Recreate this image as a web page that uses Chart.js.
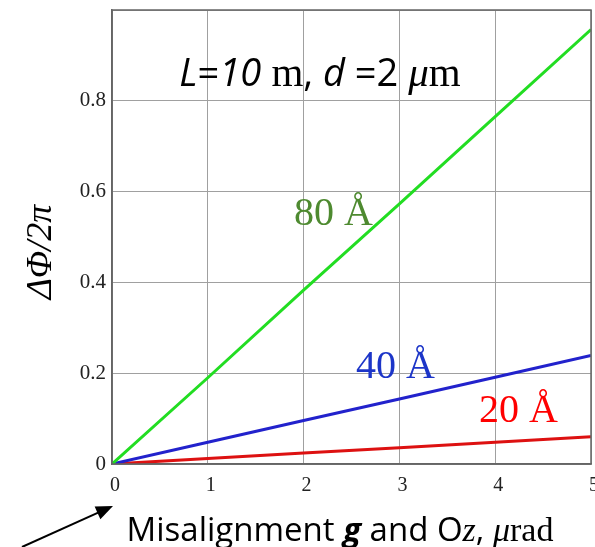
<!DOCTYPE html>
<html>
<head>
<meta charset="utf-8">
<script src="https://cdn.jsdelivr.net/npm/chart.js@4"></script>
<style>
  html, body { margin: 0; padding: 0; background: #fff; }
  #wrap { width: 595px; height: 547px; }
</style>
</head>
<body>
<div id="wrap"><canvas id="grafico" width="595" height="547"></canvas></div>
<script>
// Datos
const desalineacion = [0, 1, 2, 3, 4, 5];          // eje x, µrad
const fase80 = [0, 0.19, 0.383, 0.573, 0.765, 0.957];
const fase40 = [0, 0.048, 0.096, 0.143, 0.191, 0.239];
const fase20 = [0, 0.012, 0.024, 0.036, 0.048, 0.06];
const yTicks = [0, 0.2, 0.4, 0.6, 0.8];
const etiquetas = ['80 Å', '40 Å', '20 Å'];

const serif = '"Liberation Serif", "DejaVu Serif", serif';
const sans = '"Open Sans", "Liberation Sans", sans-serif';

function puntos(ys) {
  return desalineacion.map((x, i) => ({ x, y: ys[i] }));
}

// Dibuja un texto compuesto por varios trozos con distintas fuentes
function textoMixto(ctx, partes, x, y, align) {
  let total = 0;
  partes.forEach(p => { ctx.font = p.font; total += ctx.measureText(p.t).width; });
  let cx = align === 'center' ? x - total / 2 : x;
  partes.forEach(p => {
    ctx.font = p.font;
    ctx.fillStyle = p.color || '#000';
    ctx.fillText(p.t, cx, y);
    cx += ctx.measureText(p.t).width;
  });
}

const textosPlugin = {
  id: 'textos',
  afterDraw(chart) {
    const ctx = chart.ctx;
    const xs = chart.scales.x, ys = chart.scales.y;
    ctx.save();
    ctx.textBaseline = 'alphabetic';
    ctx.textAlign = 'left';

    // encabezado
    textoMixto(ctx, [
      { t: 'L', font: 'italic 38px ' + sans },
      { t: '=', font: '38px ' + sans },
      { t: '10', font: 'italic 38px ' + sans },
      { t: ' m', font: '41px ' + serif },
      { t: ', ', font: '38px ' + sans },
      { t: 'd', font: 'italic 38px ' + sans },
      { t: ' =2 ', font: '38px ' + sans },
      { t: 'μ', font: 'italic 41px ' + serif },
      { t: 'm', font: '41px ' + serif }
    ], 320, 86, 'center');

    // etiquetas de las curvas
    ctx.font = '40px ' + serif;
    ctx.fillStyle = '#4e8a30';
    ctx.fillText(etiquetas[0], 294, 225);
    ctx.fillStyle = '#1c35c8';
    ctx.fillText(etiquetas[1], 356, 378);
    ctx.fillStyle = '#ff0000';
    ctx.fillText(etiquetas[2], 479, 422);

    // título eje x
    textoMixto(ctx, [
      { t: 'Misalignment ', font: '33px ' + sans },
      { t: 'g', font: 'italic bold 33px ' + sans },
      { t: ' and O', font: '33px ' + sans },
      { t: 'z', font: 'italic 34px ' + serif },
      { t: ', ', font: '33px ' + sans },
      { t: 'μ', font: 'italic 34px ' + serif },
      { t: 'rad', font: '34px ' + serif }
    ], 340, 541, 'center');

    // título eje y
    ctx.translate(51, 252);
    ctx.rotate(-Math.PI / 2);
    textoMixto(ctx, [
      { t: 'ΔΦ/2π', font: 'italic 36px ' + serif }
    ], 0, 0, 'center');
    ctx.restore();

    // flecha
    ctx.save();
    const x0 = 22, y0 = 547, x1 = xs.getPixelForValue(0) + 1, y1 = ys.getPixelForValue(0) + 42;
    const ang = Math.atan2(y1 - y0, x1 - x0);
    ctx.strokeStyle = '#000';
    ctx.fillStyle = '#000';
    ctx.lineWidth = 2;
    ctx.beginPath();
    ctx.moveTo(x0, y0);
    ctx.lineTo(x1 - 12 * Math.cos(ang), y1 - 12 * Math.sin(ang));
    ctx.stroke();
    ctx.beginPath();
    ctx.moveTo(x1, y1);
    ctx.lineTo(x1 - 17 * Math.cos(ang) + 7 * Math.sin(ang), y1 - 17 * Math.sin(ang) - 7 * Math.cos(ang));
    ctx.lineTo(x1 - 17 * Math.cos(ang) - 7 * Math.sin(ang), y1 - 17 * Math.sin(ang) + 7 * Math.cos(ang));
    ctx.closePath();
    ctx.fill();
    ctx.restore();
  }
};

const ctx = document.getElementById('grafico').getContext('2d');

new Chart(ctx, {
  type: 'line',
  data: {
    datasets: [
      { label: etiquetas[0], data: puntos(fase80), borderColor: '#22dd22', borderWidth: 3 },
      { label: etiquetas[1], data: puntos(fase40), borderColor: '#2222cc', borderWidth: 3 },
      { label: etiquetas[2], data: puntos(fase20), borderColor: '#dd1111', borderWidth: 3 }
    ]
  },
  options: {
    responsive: false,
    animation: false,
    layout: { padding: { left: 0, top: 10, right: 4, bottom: 0 } },
    elements: { point: { radius: 0 }, line: { tension: 0 } },
    plugins: { legend: { display: false }, tooltip: { enabled: false } },
    scales: {
      x: {
        type: 'linear',
        min: 0,
        max: 5,
        grid: { color: '#a0a0a0', lineWidth: 1, drawTicks: false },
        border: { color: '#666', width: 1.5 },
        ticks: {
          stepSize: 1,
          padding: 10,
          labelOffset: 3,
          color: '#222',
          font: { family: serif, size: 20 }
        },
        afterFit(scale) {
          scale.height = 83;
          scale.paddingLeft = 0;
          scale.paddingRight = 0;
        }
      },
      y: {
        type: 'linear',
        min: 0,
        max: 1,
        afterBuildTicks(scale) {
          scale.ticks = yTicks.concat([1]).map(v => ({ value: v }));
        },
        grid: { color: '#a0a0a0', lineWidth: 1, drawTicks: false },
        border: { color: '#666', width: 1.5 },
        ticks: {
          padding: 6,
          color: '#222',
          font: { family: serif, size: 21 },
          callback: v => (yTicks.includes(v) ? String(v) : '')
        },
        afterFit(scale) {
          scale.width = 112;
          scale.paddingTop = 0;
          scale.paddingBottom = 0;
        }
      }
    }
  },
  plugins: [textosPlugin, {
    id: 'marco',
    afterDatasetsDraw(chart) {
      const a = chart.chartArea, c = chart.ctx;
      c.save();
      c.strokeStyle = '#666';
      c.lineWidth = 1.5;
      c.strokeRect(a.left, a.top, a.right - a.left, a.bottom - a.top);
      c.restore();
    }
  }]
});
</script>
</body>
</html>
